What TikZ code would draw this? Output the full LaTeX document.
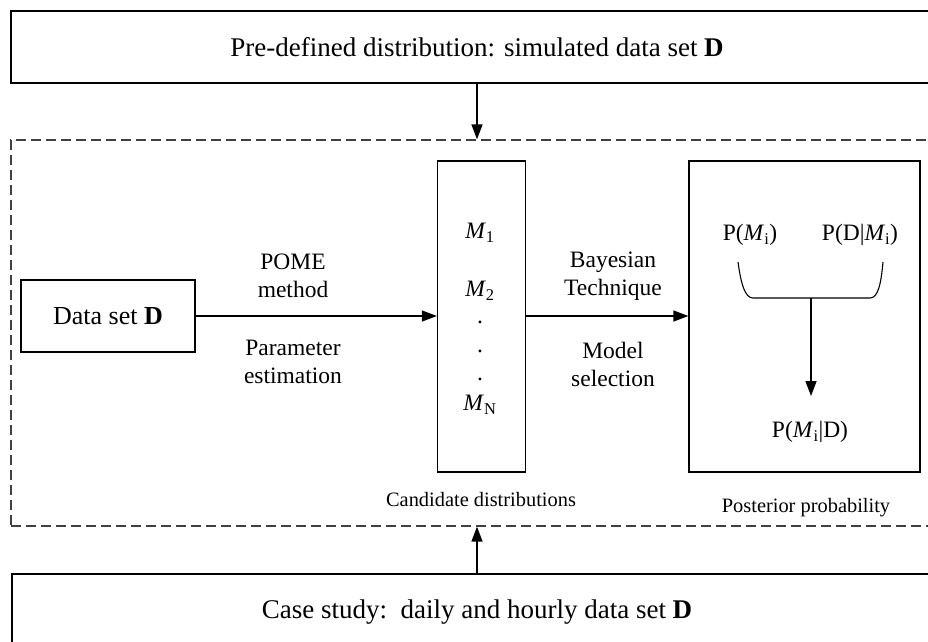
\documentclass[tikz,border=0pt]{standalone}
\usepackage{fontspec}
\setmainfont{Liberation Serif}
\usetikzlibrary{arrows.meta}
\begin{document}
\begin{tikzpicture}[x=1pt,y=-1pt,
  box/.style={draw, line width=1.3pt, inner sep=0pt},
  dashbox/.style={draw=black!75, line width=1.3pt, dash pattern=on 10pt off 5pt, inner sep=0pt},
  arr/.style={line width=1.4pt, -{Triangle[length=15pt,width=11pt]}},
  big/.style={font=\fontsize{27}{32}\selectfont},
  mid/.style={font=\fontsize{23.5}{28}\selectfont, align=center, inner sep=0pt},
  small/.style={font=\fontsize{20.4}{24}\selectfont, inner sep=0pt},
]
\useasboundingbox (0,0) rectangle (928,641);
\clip (0,0) rectangle (928,641);

% outer frames
\node[box, big, minimum width=932pt, minimum height=72pt] (pre) at (477,47)
  {Pre-defined distribution: simulated data set \textbf{D}};
\node[dashbox, minimum width=932pt, minimum height=386pt] (frame) at (477,333) {};
\node[box, big, minimum width=930pt, minimum height=76pt] (case) at (477,612)
  {Case study:\ \ daily and hourly data set \textbf{D}};

% inner boxes
\node[box, font=\fontsize{26}{30}\selectfont, minimum width=174pt, minimum height=72pt] (data) at (108,316)
  {Data set \textbf{D}};
\node[box, minimum width=88pt, minimum height=311pt] (mbox) at (481.5,316.5) {};
\node[box, minimum width=231pt, minimum height=311pt] (pbox) at (804.5,316.5) {};

% candidate models
\node[mid] (m1) at (480,233) {\textit{M}\textsubscript{1}};
\node[mid] (m2) at (480,291) {\textit{M}\textsubscript{2}};
\node[mid] (d1) at (480,322) {.};
\node[mid] (d2) at (480,351) {.};
\node[mid] (d3) at (480,379) {.};
\node[mid] (mn) at (480,405) {\textit{M}\textsubscript{N}};

% edge labels
\node[mid] (pome) at (293,275.5) {POME\\method};
\node[mid] (param) at (293,362) {Parameter\\estimation};
\node[mid] (bayes) at (613,276) {Bayesian\\Technique};
\node[mid] (model) at (613,364) {Model\\selection};

% probabilities
\node[mid] (prior) at (750,235) {P(\textit{M}\textsubscript{i})};
\node[mid] (like) at (860,235) {P(D|\textit{M}\textsubscript{i})};
\node[mid] (post) at (810,432) {P(\textit{M}\textsubscript{i}|D)};

% captions
\node[small] (cand) at (481,500) {Candidate distributions};
\node[small] (postcap) at (806,508) {Posterior probability};

% bracket joining prior and likelihood
\coordinate (bl) at (738,262);
\coordinate (blb) at (753,298);
\coordinate (brb) at (870,298);
\coordinate (br) at (883,262);
\coordinate (bm) at (811,298);
\coordinate (tip) at (811,396);
\draw[line width=1.1pt] (bl) .. controls (741,284) and (745,298) .. (blb) -- (brb)
  .. controls (878,298) and (881,284) .. (br);

% connectors
\draw[arr] (pre.south) -- (frame.north);
\draw[arr] (case.north) -- (frame.south);
\draw[arr] (data.east) -- (data.east -| mbox.west);
\draw[arr] (mbox.east |- data.east) -- (data.east -| pbox.west);
\draw[arr] (bm) -- (tip);
\end{tikzpicture}
\end{document}
